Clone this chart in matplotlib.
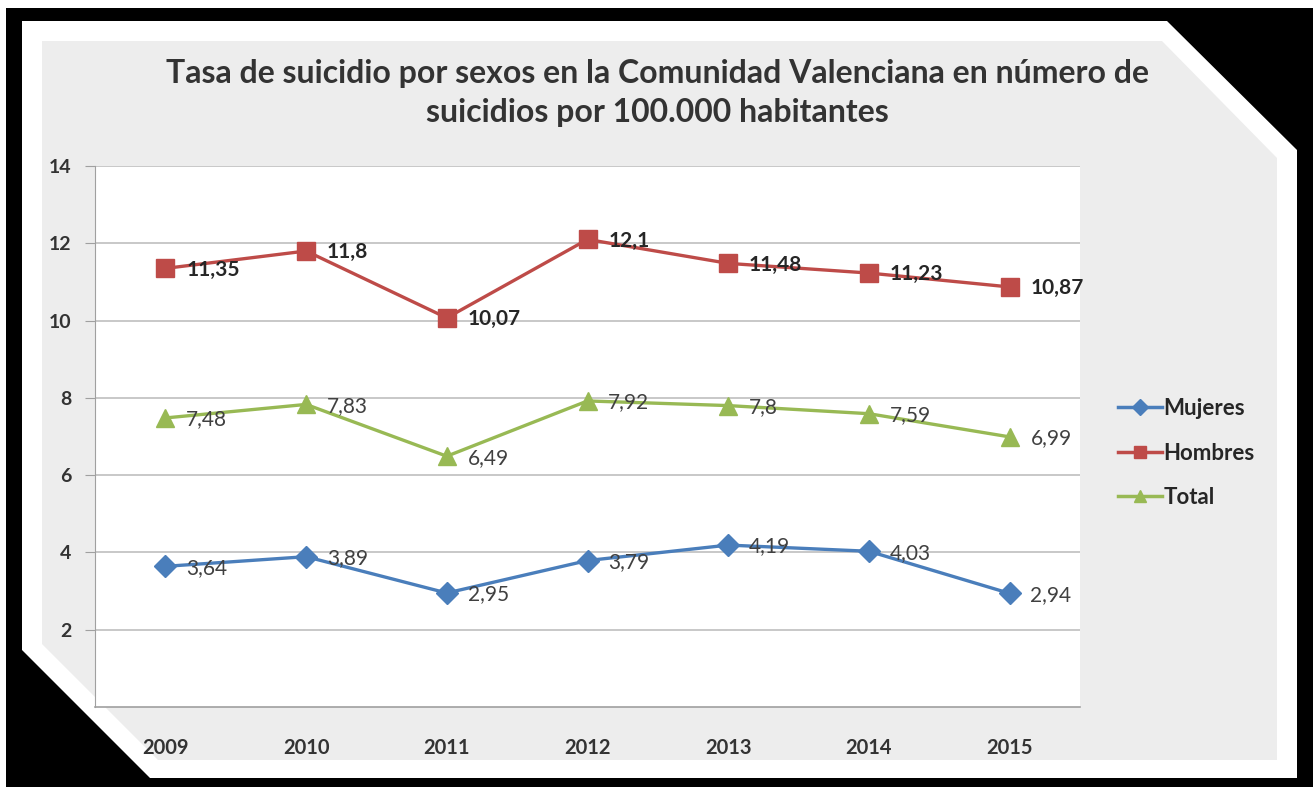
import numpy as np
import matplotlib.pyplot as plt
from matplotlib.patches import Polygon

plt.rcParams["font.family"] = ["Lato", "DejaVu Sans"]

years = ["2009", "2010", "2011", "2012", "2013", "2014", "2015"]
mujeres = [3.64, 3.89, 2.95, 3.79, 4.19, 4.03, 2.94]
hombres = [11.35, 11.8, 10.07, 12.1, 11.48, 11.23, 10.87]
total = [7.48, 7.83, 6.49, 7.92, 7.8, 7.59, 6.99]
yticks = [2, 4, 6, 8, 10, 12, 14]

W, H = 1313, 787
fig = plt.figure(figsize=(W / 100, H / 100), dpi=100)
fig.patch.set_facecolor("white")


def px(pts):
    # pixel coords (origin top-left) -> figure fraction
    return [(x / W, 1 - y / H) for x, y in pts]


# black frame
fig.patches.append(Polygon(px([(6, 8), (1313, 8), (1313, 787), (6, 787)]),
                           closed=True, transform=fig.transFigure,
                           facecolor="black", edgecolor="none", zorder=0))
# white bevelled panel
fig.patches.append(Polygon(px([(22, 21), (1167, 21), (1297, 150), (1297, 778),
                               (150, 778), (22, 650)]),
                           closed=True, transform=fig.transFigure,
                           facecolor="white", edgecolor="none", zorder=1))
# gray inner panel
fig.patches.append(Polygon(px([(42, 41), (1162, 41), (1277, 158), (1277, 760),
                               (158, 760), (42, 644)]),
                           closed=True, transform=fig.transFigure,
                           facecolor="#EDEDED", edgecolor="none", zorder=2))

ax = fig.add_axes([95 / W, (H - 707) / H, 985 / W, (707 - 166) / H])
ax.set_zorder(3)
ax.set_facecolor("white")

x = np.arange(len(years))
blue, red, green = "#4A7EBB", "#BE4B48", "#98B954"
ax.plot(x, mujeres, color=blue, lw=2.4, marker="D", ms=11, label="Mujeres", zorder=4)
ax.plot(x, hombres, color=red, lw=2.4, marker="s", ms=13, label="Hombres", zorder=4)
ax.plot(x, total, color=green, lw=2.4, marker="^", ms=13, label="Total", zorder=4)

for series, bold in [(mujeres, False), (hombres, True), (total, False)]:
    for xi, v in zip(x, series):
        ax.annotate(f"{v:g}".replace(".", ","), (xi, v), xytext=(15, -1),
                    textcoords="offset points", va="center", ha="left",
                    fontsize=15, color="#262626" if bold else "#404040",
                    fontweight="bold" if bold else "normal", zorder=5)

ax.set_xlim(-0.5, len(years) - 0.5)
ax.set_ylim(0, 14)
ax.set_yticks(yticks)
ax.set_yticklabels([str(t) for t in yticks], fontsize=14, fontweight="bold",
                   color="#333333")
ax.set_xticks(x)
ax.set_xticklabels(years, fontsize=14.5, fontweight="bold", color="#333333")
ax.tick_params(axis="x", length=0, pad=22)
ax.tick_params(axis="y", length=7, color="#A0A0A0", pad=10)
ax.grid(axis="y", color="#BFBFBF", lw=1.2)
ax.set_axisbelow(True)
for s in ["top", "right"]:
    ax.spines[s].set_visible(False)
ax.spines["left"].set_color("#A0A0A0")
ax.spines["bottom"].set_color("#A0A0A0")
ax.spines["bottom"].set_linewidth(1.2)

leg = fig.legend(loc="center left", bbox_to_anchor=(1098 / W, 1 - 453 / H),
                 frameon=False, handlelength=2.0,
                 handletextpad=0.05, labelspacing=1.05,
                 prop={"weight": "bold", "size": 16})
for t in leg.get_texts():
    t.set_color("#262626")
for h in leg.legend_handles:
    h.set_markersize(8)
    h.set_linewidth(2.5)

fig.text(657 / W, 1 - 93 / H,
         "Tasa de suicidio por sexos en la Comunidad Valenciana en número de\n"
         "suicidios por 100.000 habitantes",
         ha="center", va="center", fontsize=23, fontweight="bold",
         color="#333333", linespacing=1.42, zorder=6)

fig.savefig("out.png", dpi=100)
